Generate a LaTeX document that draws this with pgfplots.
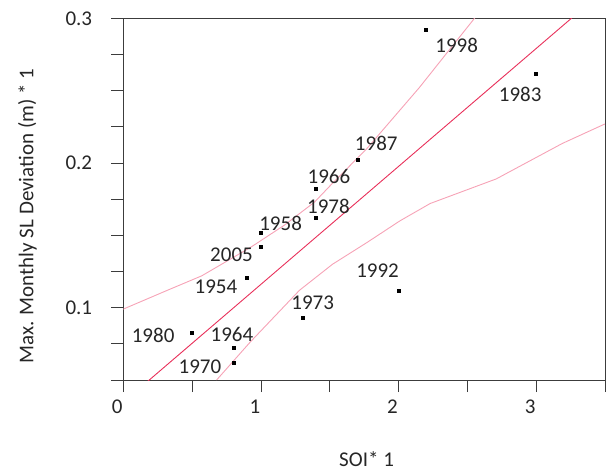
\documentclass[border=0pt]{standalone}
\usepackage{pgfplots}
\pgfplotsset{compat=1.18}
\usepackage{pgfplotstable}
\usepackage{fontspec}
\setmainfont{Carlito}
\definecolor{regline}{RGB}{232,48,90}
\definecolor{band}{RGB}{246,162,182}
\definecolor{txt}{RGB}{38,38,38}
\definecolor{axl}{RGB}{60,60,60}

\pgfplotstableread{
x y label dx dy
1.0 0.152 1958 19.7 9
1.0 0.142 2005 -29.4 -7.8
0.9 0.121 1954 -31.2 -9.5
0.5 0.083 1980 -39 -3
0.8 0.072 1964 -1.5 13.4
0.8 0.062 1970 -33.5 -4.3
1.3 0.093 1973 10.5 15
1.4 0.162 1978 12.5 11.3
1.4 0.182 1966 13 13
2.2 0.292 1998 30.6 -16
3.0 0.262 1983 -16 -21
1.7 0.202 1987 19 17
2.0 0.112 1992 -21 19.3
}\ptsdata

\pgfplotstableread{
x y
0.00 0.0346
3.50 0.3199
}\fitline

\pgfplotstableread{
x y
0.00 0.099
0.32 0.112
0.57 0.122
0.93 0.142
1.17 0.157
1.39 0.173
1.50 0.184
1.77 0.210
2.15 0.252
2.56 0.301
}\upband

\pgfplotstableread{
x y
0.678 0.050
0.92 0.076
1.28 0.112
1.52 0.130
1.77 0.145
2.01 0.160
2.23 0.172
2.71 0.189
3.19 0.2135
3.50 0.227
}\lowband

\begin{document}
\begin{tikzpicture}
\path[use as bounding box] (-123.3pt,-94pt) rectangle (484.7pt,380pt);
\begin{axis}[
  at={(0,0)}, anchor=south west,
  scale only axis, width=481.7pt, height=361.7pt,
  xmin=0, xmax=3.5, ymin=0.05, ymax=0.3,
  axis line style={axl, line width=0.8pt},
  tick align=outside, major tick length=12pt,
  tick style={axl, line width=0.8pt},
  xtick pos=bottom, ytick pos=left,
  xtick={0,0.5,1,1.5,2,2.5,3,3.5},
  xticklabels={0,,1,,2,,3,},
  ytick={0.05,0.075,0.1,0.125,0.15,0.175,0.2,0.225,0.25,0.275,0.3},
  yticklabels={,,0.1,,,,0.2,,,,0.3},
  /pgf/number format/assume math mode=true,
  every tick label/.append style={font=\fontsize{21}{25}\selectfont, text=txt, inner sep=0pt},
  xticklabel style={anchor=north, xshift=-6pt, yshift=-8pt},
  yticklabel style={anchor=east, xshift=-19pt},
  xlabel={SOI* 1},
  ylabel={Max. Monthly SL Deviation (m) * 1},
  label style={font=\fontsize{21}{25}\selectfont, text=txt, inner sep=0pt},
  xlabel style={at={(axis description cs:0.505,-0.22)}, anchor=center},
  ylabel style={at={(axis description cs:-0.1993,0.453)}, anchor=center},
  clip=true,
]
\addplot[band, line width=0.9pt] table {\upband};
\addplot[band, line width=0.9pt] table {\lowband};
\addplot[regline, line width=0.9pt] table {\fitline};
\addplot[only marks, mark=square*, mark size=1.5pt, black,
  point meta=explicit symbolic,
  nodes near coords,
  visualization depends on={\thisrow{dx} \as \dx},
  visualization depends on={\thisrow{dy} \as \dy},
  every node near coord/.append style={anchor=center, inner sep=0pt,
    xshift=\dx pt, yshift=\dy pt, font=\fontsize{21}{25}\selectfont, text=txt}
] table[x=x, y=y, meta=label] {\ptsdata};
\end{axis}
\end{tikzpicture}
\end{document}
